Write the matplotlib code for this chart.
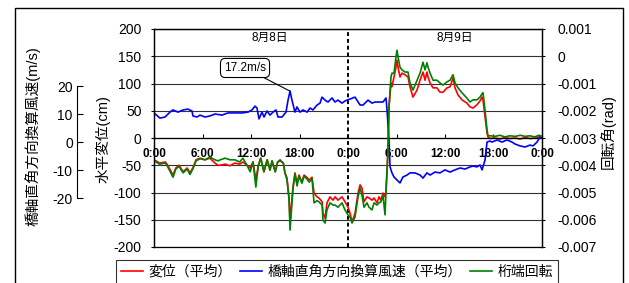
import matplotlib.pyplot as plt
from matplotlib.patches import Rectangle
from matplotlib.ticker import FuncFormatter

plt.rcParams['font.family'] = ['Liberation Sans', 'Noto Sans CJK JP']
plt.rcParams['axes.unicode_minus'] = False

# ── DATA (hours counted from 8/8 0:00) ─────────────────────
t = [0.0, 0.7, 1.4, 1.7, 2.35, 2.7, 3.1, 3.6, 4.1, 4.45,
     4.8, 5.2, 5.7, 6.3, 6.9, 7.55, 7.9, 8.2, 8.8, 9.4,
     10.0, 10.6, 11.0, 11.5, 11.9, 12.25, 12.6, 12.9, 13.2, 13.6,
     14.0, 14.35, 14.6, 15.0, 15.3, 15.6, 16.0, 16.2, 16.45, 16.7,
     16.83, 17.2, 17.44, 17.7, 17.94, 18.3, 18.56, 18.9, 19.2, 19.55,
     19.8, 20.17, 20.4, 20.8, 20.9, 21.16, 21.4, 21.77, 22.15, 22.4,
     22.76, 23.26, 23.63, 24.0, 24.25, 24.5, 24.87, 25.24, 25.49, 25.73,
     25.98, 26.35, 26.6, 26.97, 27.22, 27.59, 27.84, 28.08, 28.33, 28.58,
     28.7, 28.95, 29.07, 29.32, 29.44, 29.69, 29.94, 30.06, 30.19, 30.43,
     30.68, 31.05, 31.42, 31.67, 32.04, 32.54, 32.91, 33.28, 33.53, 33.77,
     33.9, 34.15, 34.52, 35.01, 35.38, 35.75, 36.25, 36.62, 36.99, 37.24,
     37.61, 38.1, 38.72, 39.09, 39.47, 39.96, 40.33, 40.58, 40.7, 40.95,
     41.2, 41.32, 41.6, 42.2, 42.8, 43.4, 44.0, 44.7, 45.3, 45.9,
     46.5, 47.1, 47.6, 48.0]

# horizontal displacement (cm), mean
disp = [-40, -46, -44, -50, -68, -55, -50, -62, -55, -64,
        -55, -40, -37, -40, -37, -46, -50, -50, -48, -51,
        -46, -48, -44, -50, -55, -44, -77, -51, -37, -62,
        -40, -59, -42, -62, -44, -42, -46, -64, -73, -108,
        -150, -90, -64, -83, -68, -81, -68, -72, -77, -72,
        -101, -108, -110, -117, -138, -147, -119, -108, -114, -108,
        -114, -108, -117, -127, -138, -154, -138, -101, -86, -92,
        -117, -108, -110, -114, -110, -119, -108, -114, -101, -108,
        -99, -22, 57, 101, 94, 112, 130, 143, 130, 112,
        119, 116, 112, 94, 75, 88, 106, 121, 106, 121,
        112, 101, 92, 92, 84, 84, 92, 94, 110, 92,
        79, 70, 64, 57, 55, 61, 68, 75, 70, 39,
        9, 2, -1, 0, -2, 1, -1, 0, -2, 1,
        -1, 0, 2, 0]

# girder end rotation (rad)
rot = [-0.00384, -0.00396, -0.00392, -0.00406, -0.00444, -0.00414, -0.00404, -0.00428, -0.00414, -0.00434,
       -0.00414, -0.00384, -0.00376, -0.0038, -0.0037, -0.0038, -0.00384, -0.0038, -0.00374, -0.0038,
       -0.0038, -0.00388, -0.00374, -0.004, -0.00424, -0.00388, -0.0048, -0.00402, -0.00374, -0.00424,
       -0.0038, -0.00418, -0.00384, -0.00424, -0.00388, -0.0038, -0.00392, -0.00428, -0.00454, -0.00524,
       -0.00638, -0.00484, -0.00432, -0.00476, -0.0044, -0.00466, -0.0044, -0.0045, -0.00462, -0.0045,
       -0.00538, -0.0053, -0.00534, -0.00546, -0.006, -0.00612, -0.00564, -0.00538, -0.00546, -0.00546,
       -0.00554, -0.00538, -0.00564, -0.00582, -0.0059, -0.00612, -0.0059, -0.00516, -0.00484, -0.0051,
       -0.00554, -0.00538, -0.00554, -0.00564, -0.00538, -0.00546, -0.00538, -0.00534, -0.0051, -0.00582,
       -0.00498, -0.00344, -0.00186, -0.00076, -0.00062, -0.00062, -0.00002, 0.00022, -0.00002, -0.0004,
       -0.0005, -0.00058, -0.00058, -0.00098, -0.00124, -0.00088, -0.00062, -0.00022, -0.0005, -0.00024,
       -0.0004, -0.00062, -0.00088, -0.00088, -0.00098, -0.00106, -0.00094, -0.00088, -0.00068, -0.00098,
       -0.00116, -0.00134, -0.00154, -0.00168, -0.0016, -0.0016, -0.0015, -0.00138, -0.00134, -0.00198,
       -0.0027, -0.00292, -0.00292, -0.00294, -0.0029, -0.00296, -0.00292, -0.00294, -0.0029, -0.00294,
       -0.00292, -0.00296, -0.0029, -0.00294]

# cross-wind speed (m/s), mean
t_wind = [0.0, 0.74, 1.36, 1.98, 2.35, 2.97, 3.59, 4.2, 4.7, 4.82,
          5.32, 5.69, 6.31, 6.93, 7.55, 8.41, 9.15, 10.02, 10.89, 11.63,
          12.12, 12.5, 12.74, 12.99, 13.36, 13.61, 13.98, 14.35, 14.72, 15.09,
          15.34, 15.84, 16.33, 16.58, 16.83, 17.07, 17.44, 17.69, 18.06, 18.43,
          18.93, 19.3, 19.67, 20.17, 20.54, 20.78, 21.16, 21.53, 22.02, 22.39,
          22.76, 23.26, 23.63, 24.25, 24.87, 25.49, 25.86, 26.48, 26.97, 27.34,
          27.96, 28.33, 28.7, 28.83, 29.07, 29.2, 29.44, 29.69, 30.06, 30.43,
          30.8, 31.3, 31.67, 32.29, 32.91, 33.28, 33.77, 34.15, 34.76, 35.38,
          36.0, 36.62, 37.24, 37.86, 38.48, 39.09, 39.47, 39.96, 40.33, 40.58,
          40.95, 41.2, 41.57, 41.82, 42.44, 43.05, 43.67, 44.29, 44.66, 45.28,
          45.9, 46.52, 46.89, 47.38, 47.75, 48.0]
wind = [9.2, 7.3, 7.7, 9.5, 10.3, 9.5, 10.3, 10.6, 9.9, 8.1,
        7.7, 8.4, 7.7, 8.1, 8.8, 8.4, 9.2, 9.2, 9.2, 9.5,
        10.3, 11.7, 11.0, 7.0, 9.5, 7.7, 9.9, 8.4, 9.5, 10.3,
        7.7, 7.7, 9.5, 13.9, 17.2, 13.9, 9.5, 11.4, 9.5, 10.3,
        9.5, 11.0, 10.3, 12.1, 12.8, 15.0, 13.9, 13.2, 14.7, 13.2,
        13.9, 12.8, 13.6, 14.3, 15.0, 12.1, 12.1, 13.9, 12.8, 13.2,
        13.2, 13.2, 14.7, 10.3, -0.7, -10.6, -12.8, -14.3, -15.4, -16.5,
        -14.3, -13.6, -12.8, -12.8, -13.6, -14.7, -12.8, -13.6, -12.5, -12.8,
        -11.7, -12.5, -11.7, -11.0, -11.4, -10.6, -10.3, -10.6, -9.9, -11.7,
        -8.1, -1.5, -1.1, -1.5, -0.7, -1.5, -0.7, -1.5, -2.2, -2.9,
        -3.3, -2.6, -2.9, -1.5, 0.4, 0.7]

x_ticks = [0, 6, 12, 18, 24, 30, 36, 42, 48]
x_labels = ['0:00', '6:00', '12:00', '18:00', '0:00', '6:00', '12:00', '18:00', '0:00']
disp_ticks = [-200, -150, -100, -50, 0, 50, 100, 150, 200]
rot_ticks = [-0.007, -0.006, -0.005, -0.004, -0.003, -0.002, -0.001, 0, 0.001]
wind_ticks = [-20, -10, 0, 10, 20]
dates = ['8月8日', '8月9日']
date_pos = [14.35, 37.24]
peak_t, peak_w = 16.83, 17.2

W, H = 629, 283
fig = plt.figure(figsize=(W / 100, H / 100), dpi=100)

# ── main axis: displacement ────────────────────────────────
ax = fig.add_axes([154 / W, 36 / H, 388 / W, 218 / H])
ax.set_xlim(0, 48)
ax.set_ylim(-200, 200)
ax.set_yticks(disp_ticks)
ax.yaxis.grid(True, color='#333333', lw=0.8)
ax.set_axisbelow(True)
ax.spines['bottom'].set_position(('data', 0))
for s in ax.spines.values():
    s.set_linewidth(0.9)
ax.set_xticks(x_ticks)
ax.set_xticklabels(x_labels, fontweight='bold', fontsize=8.5)
ax.tick_params(axis='x', direction='in', length=3, pad=7)
ax.tick_params(axis='y', direction='out', length=2, labelsize=10, pad=7)
ax.axvline(24, color='black', lw=1.4, ls=(0, (2, 1.5)))
l1, = ax.plot(t, disp, color='#ff0000', lw=1.2, label='変位（平均）')
for d, x in zip(dates, date_pos):
    ax.text(x, 183, d, ha='center', va='center', fontsize=8.5)

# ── wind speed (shares the cm scale: 10 m/s = 50 cm) ───────
ax_w = ax.twinx()
ax_w.set_ylim(-40, 40)
ax_w.axis('off')
l2, = ax_w.plot(t_wind, wind, color='#0000ff', lw=1.2, label='橋軸直角方向換算風速（平均）')
ax_w.annotate(f'{peak_w}m/s', xy=(peak_t, peak_w), xytext=(11.26, 25.7),
              ha='center', va='center', fontsize=8.5,
              bbox=dict(boxstyle='round,pad=0.3,rounding_size=0.4', fc='white', ec='black', lw=0.8),
              arrowprops=dict(arrowstyle='-', color='black', lw=0.8, shrinkA=0, shrinkB=0))

# ── rotation ───────────────────────────────────────────────
ax_r = ax.twinx()
ax_r.set_ylim(-0.007, 0.001)
ax_r.set_yticks(rot_ticks)
ax_r.yaxis.set_major_formatter(FuncFormatter(lambda v, p: '0' if abs(v) < 1e-9 else f'{round(v, 3):g}'))
ax_r.tick_params(axis='y', direction='out', length=2, labelsize=10, pad=9)
for s in ax_r.spines.values():
    s.set_linewidth(0.9)
l3, = ax_r.plot(t, rot, color='#008000', lw=1.2, label='桁端回転')

# ── separate wind scale on the left ────────────────────────
ax_s = fig.add_axes([77 / W, 85 / H, 0.03, 112 / H])
ax_s.set_ylim(-20, 20)
ax_s.set_yticks(wind_ticks)
ax_s.set_xticks([])
ax_s.patch.set_visible(False)
for k in ['top', 'right', 'bottom']:
    ax_s.spines[k].set_visible(False)
ax_s.tick_params(axis='y', direction='in', length=4, labelsize=10, pad=3)

# ── labels ─────────────────────────────────────────────────
fig.text(33 / W, 1 - 136 / H, '橋軸直角方向換算風速(m/s)', rotation=90, ha='center', va='center', fontsize=10.5)
fig.text(103 / W, 1 - 139 / H, '水平変位(cm)', rotation=90, ha='center', va='center', fontsize=10.5)
fig.text(608 / W, 1 - 132 / H, '回転角(rad)', rotation=90, ha='center', va='center', fontsize=10.5)

leg = fig.legend(handles=[l1, l2, l3], loc='center', bbox_to_anchor=(337 / W, 1 - 272 / H),
                 ncol=3, fontsize=10, frameon=True, fancybox=False, edgecolor='black',
                 handlelength=1.6, handletextpad=0.4, columnspacing=0.6, borderpad=0.35)
leg.get_frame().set_linewidth(0.8)

fig.add_artist(Rectangle((15 / W, -0.1), 608 / W, 1.1 - 8 / H, transform=fig.transFigure,
                         fill=False, ec='black', lw=1))

fig.savefig('out.png', dpi=100)
